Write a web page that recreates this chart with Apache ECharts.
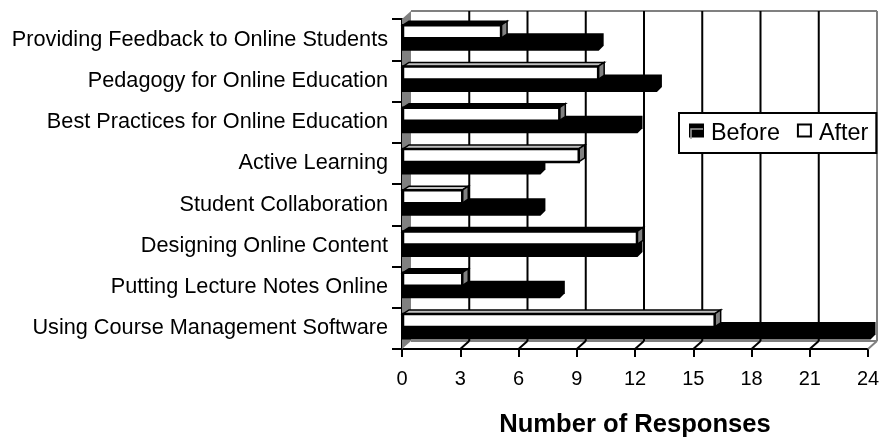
<!DOCTYPE html>
<html>
<head>
<meta charset="utf-8">
<style>
  html, body { margin: 0; padding: 0; background: #fff; }
  #chart { width: 882px; height: 439px; }
</style>
<script src="https://cdn.jsdelivr.net/npm/echarts@6/dist/echarts.min.js"></script>
</head>
<body>
<div id="chart"></div>
<script>
// Data
const categories = [
  'Providing Feedback to Online Students',
  'Pedagogy for Online Education',
  'Best Practices for Online Education',
  'Active Learning',
  'Student Collaboration',
  'Designing Online Content',
  'Putting Lecture Notes Online',
  'Using Course Management Software'
];
const beforeValues = [10, 13, 12, 7, 7, 12, 8, 24];
const afterValues = [5, 10, 8, 9, 3, 12, 3, 16];
const xTicks = [0, 3, 6, 9, 12, 15, 18, 21, 24];

const FONT = '"Liberation Sans", Arial, sans-serif';
const WALL_DX = 9;   // depth of the 3D box
const WALL_DY = 8;
const BAR_DX = 6;    // depth of a single bar
const BAR_DY = 4;
const GRAY = '#808080';
// the top face of these rows closes up to solid black in the original
const solidTopRows = [0, 2, 5, 6];

// Back wall, floor and gridlines, all offset from the front plane
function renderWall(params, api) {
  const v = api.value(0);
  const rect = params.coordSys;
  const x = api.coord([v, 0])[0];
  const yTop = rect.y;
  const yBottom = rect.y + rect.height;
  const xRight = rect.x + rect.width;
  const children = [];
  const line = (x1, y1, x2, y2, stroke, width) => ({
    type: 'line',
    shape: { x1, y1, x2, y2 },
    style: { stroke, lineWidth: width }
  });

  if (v === 0) {
    // left wall, top edge and floor edge
    children.push({
      type: 'polygon',
      shape: {
        points: [
          [x, yTop],
          [x + WALL_DX, yTop - WALL_DY],
          [x + WALL_DX, yBottom - WALL_DY],
          [x, yBottom]
        ]
      },
      style: { fill: GRAY }
    });
    children.push(line(x + WALL_DX, yTop - WALL_DY, xRight + WALL_DX, yTop - WALL_DY, GRAY, 2));
    children.push(line(x + WALL_DX, yBottom - WALL_DY, xRight + WALL_DX, yBottom - WALL_DY, GRAY, 2));
  } else if (v === 24) {
    children.push(line(x + WALL_DX, yTop - WALL_DY, x + WALL_DX, yBottom - WALL_DY, GRAY, 2));
    children.push(line(x, yBottom, x + WALL_DX, yBottom - WALL_DY, GRAY, 2));
  } else {
    children.push(line(x + WALL_DX, yTop - WALL_DY, x + WALL_DX, yBottom - WALL_DY, '#000', 2));
    children.push(line(x, yBottom, x + WALL_DX, yBottom - WALL_DY, '#000', 2));
  }
  return { type: 'group', children };
}

// One 3D bar: front face, top face and end face
function makeBarRenderer(isAfter) {
  return function (params, api) {
    const value = api.value(0);
    const cat = api.value(1);
    const start = api.coord([0, cat]);
    const end = api.coord([value, cat]);
    const mid = start[1] - 2.5;
    const x0 = start[0] + 1;
    if (isAfter) {
      const x1 = end[0] + 2;
      const y0 = mid - 12;
      const y1 = mid + 1;
      const border = { stroke: '#000', lineWidth: 2.5, lineJoin: 'miter' };
      const topFill = solidTopRows.includes(cat) ? '#000' : '#c0c0c0';
      return {
        type: 'group',
        children: [
          { type: 'polygon', shape: { points: [[x0, y0], [x0 + BAR_DX, y0 - BAR_DY], [x1 + BAR_DX, y0 - BAR_DY], [x1, y0]] },
            style: { fill: topFill, ...border, lineWidth: 1.5 } },
          { type: 'polygon', shape: { points: [[x1, y0], [x1 + BAR_DX, y0 - BAR_DY], [x1 + BAR_DX, y1 - BAR_DY], [x1, y1]] },
            style: { fill: GRAY, ...border, lineWidth: 1.5 } },
          { type: 'rect', shape: { x: x0, y: y0, width: x1 - x0, height: y1 - y0 },
            style: { fill: '#fff', ...border } }
        ]
      };
    }
    const x1 = end[0] + 2.5;
    const y0 = mid - BAR_DY;
    const y1 = mid + 13.5;
    return {
      type: 'polygon',
      shape: { points: [[start[0], y0], [x1 + 5, y0], [x1 + 5, y1 - 5], [x1, y1], [start[0], y1]] },
      style: { fill: '#000' }
    };
  };
}

const chart = echarts.init(document.getElementById('chart'), null, { renderer: 'canvas' });

chart.setOption({
  animation: false,
  backgroundColor: '#fff',
  textStyle: { fontFamily: FONT, color: '#000' },
  grid: { left: 402, top: 19, right: 14, bottom: 90, outerBoundsMode: 'none' },
  xAxis: {
    type: 'value',
    min: 0,
    max: 24,
    interval: 3,
    name: 'Number of Responses',
    nameLocation: 'middle',
    nameGap: 63,
    nameMoveOverlap: false,
    nameTextStyle: { fontFamily: FONT, fontSize: 25.6, fontWeight: 'bold', color: '#000' },
    axisLine: { show: true, onZero: false, lineStyle: { color: '#000', width: 2 } },
    axisTick: { show: true, length: 8, lineStyle: { color: '#000', width: 2 } },
    axisLabel: { fontFamily: FONT, fontSize: 20, color: '#000', margin: 20 },
    splitLine: { show: false }
  },
  yAxis: {
    type: 'category',
    inverse: true,
    data: categories,
    axisLine: { show: true, lineStyle: { color: '#000', width: 2 } },
    axisTick: { show: true, length: 10, lineStyle: { color: '#000', width: 2 } },
    axisLabel: { fontFamily: FONT, fontSize: 21.7, color: '#000', margin: 14 },
    splitLine: { show: false }
  },
  legend: {
    left: 679,
    top: 113,
    orient: 'horizontal',
    padding: [9, 8, 8, 10],
    itemGap: 17,
    itemWidth: 13,
    itemHeight: 12,
    backgroundColor: '#fff',
    borderColor: '#000',
    borderWidth: 2,
    borderRadius: 0,
    formatter: '{t|{name}}',
    textStyle: {
      rich: { t: { fontFamily: FONT, fontSize: 23.4, color: '#000', padding: [6, 0, 0, 3] } }
    },
    data: [
      { name: 'Before', icon: 'rect', itemStyle: { color: '#000', borderColor: '#000', borderWidth: 2 } },
      { name: 'After', icon: 'rect', itemStyle: { color: '#fff', borderColor: '#000', borderWidth: 2 } }
    ]
  },
  // light inner edge of the "Before" swatch
  graphic: [{
    type: 'polyline',
    z: 100,
    shape: { points: [[691, 139], [691, 129], [703, 129]] },
    style: { stroke: '#a0a0a0', fill: null, lineWidth: 1.5 }
  }],
  series: [
    {
      type: 'custom',
      name: 'wall',
      coordinateSystem: 'cartesian2d',
      clip: false,
      z: 1,
      renderItem: renderWall,
      encode: { x: 0 },
      data: xTicks.map(v => [v]),
      silent: true
    },
    {
      type: 'custom',
      name: 'Before',
      clip: false,
      z: 2,
      renderItem: makeBarRenderer(false),
      encode: { x: 0, y: 1 },
      itemStyle: { color: '#000' },
      data: beforeValues.map((v, i) => [v, i])
    },
    {
      type: 'custom',
      name: 'After',
      clip: false,
      z: 3,
      renderItem: makeBarRenderer(true),
      encode: { x: 0, y: 1 },
      itemStyle: { color: '#fff' },
      data: afterValues.map((v, i) => [v, i])
    }
  ]
});
</script>
</body>
</html>
